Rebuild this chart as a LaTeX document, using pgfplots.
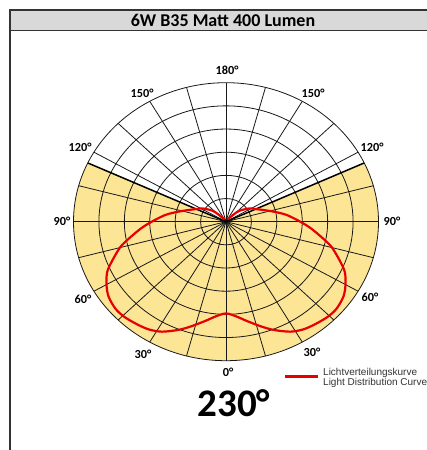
\documentclass[border=0pt]{standalone}
\usepackage{fontspec}
\setmainfont{Carlito}
\newfontfamily\arial{Liberation Sans}
\usepackage{pgfplots}
\pgfplotsset{compat=1.18}
\usepackage{pgfplotstable}
\definecolor{ldcyellow}{RGB}{253,229,150}
\definecolor{titlegray}{RGB}{217,217,217}
\definecolor{ldcred}{RGB}{232,0,0}
\pgfplotstableread{
a r
-150 0.02
-134 0.10
-128 0.14
-121 0.186
-116 0.21
-110 0.25
-103 0.321
-97 0.40
-90 0.487
-85 0.56
-79 0.652
-75 0.72
-69 0.803
-65 0.86
-60 0.905
-55 0.94
-49 0.958
-44 0.955
-38 0.94
-33 0.925
-28 0.896
-22 0.84
-17 0.788
-10 0.72
-6 0.687
0 0.66
6 0.687
10 0.72
17 0.788
22 0.84
28 0.896
33 0.925
38 0.94
44 0.955
49 0.958
55 0.94
60 0.905
65 0.86
69 0.803
75 0.72
79 0.652
85 0.56
90 0.487
97 0.40
103 0.321
110 0.25
116 0.21
121 0.186
128 0.14
134 0.10
150 0.02
}\ldc
\begin{document}
\begin{tikzpicture}
\useasboundingbox (0,0) rectangle (427pt,450pt);
\fill[white] (0,0) rectangle (427pt,450pt);
\fill[titlegray] (10pt,420pt) rectangle (427pt,440pt);
\draw[line width=0.8pt, black!80] (10pt,420pt) -- (427pt,420pt);
\draw[line width=2pt, black!80] (10pt,-1pt) -- (10pt,440pt) -- (428pt,440pt);
\node[font=\bfseries\fontsize{18}{18}\selectfont, inner sep=0pt] at (223pt,430pt) {6W B35 Matt 400 Lumen};
\begin{axis}[at={(226pt,228.3pt)}, anchor=center, scale only axis,
  width=305pt, height=278pt, xmin=-1, xmax=1, ymin=-1, ymax=1,
  hide axis, clip=false]
\fill[ldcyellow] (0,0) -- plot[domain=-205:25,samples=91] ({cos(\x)},{sin(\x)}) -- cycle;
\pgfplotsinvokeforeach{1,...,6}{\draw[black!90, line width=0.8pt] (0,0) ellipse [x radius=#1/6, y radius=#1/6];}
\pgfplotsinvokeforeach{0,15,...,345}{\draw[black!90, line width=0.8pt] (0,0) -- ({cos(#1)},{sin(#1)});}
\draw[black, line width=1.5pt] ({cos(155)},{sin(155)}) -- (0,0) -- ({cos(25)},{sin(25)});
\addplot[ldcred, line width=2.2pt, smooth, tension=0.5]
  table[x expr={\thisrow{r}*sin(\thisrow{a})}, y expr={-\thisrow{r}*cos(\thisrow{a})}] {\ldc};
\end{axis}
\begin{scope}[every node/.style={font=\bfseries\fontsize{12.3}{13}\selectfont, inner sep=0pt}]
\node at (227pt,380pt) {180°};
\node at (142pt,357pt) {150°};
\node at (313pt,357pt) {150°};
\node at (80pt,303pt) {120°};
\node at (372pt,303pt) {120°};
\node at (62pt,229pt) {90°};
\node at (392pt,229pt) {90°};
\node at (83pt,151pt) {60°};
\node at (370pt,153pt) {60°};
\node at (143pt,96pt) {30°};
\node at (312pt,98pt) {30°};
\node at (228pt,78pt) {0°};
\end{scope}
\node[font=\bfseries\fontsize{39}{39}\selectfont, inner sep=0pt] at (234pt,46.7pt) {230°};
\draw[ldcred, line width=3pt] (285pt,73.3pt) -- (318pt,73.3pt);
\node[anchor=west, align=left, inner sep=0pt, text=black!80, font=\arial\fontsize{10}{10}\selectfont] at (323pt,72.3pt) {Lichtverteilungskurve\\Light Distribution Curve};
\end{tikzpicture}
\end{document}
